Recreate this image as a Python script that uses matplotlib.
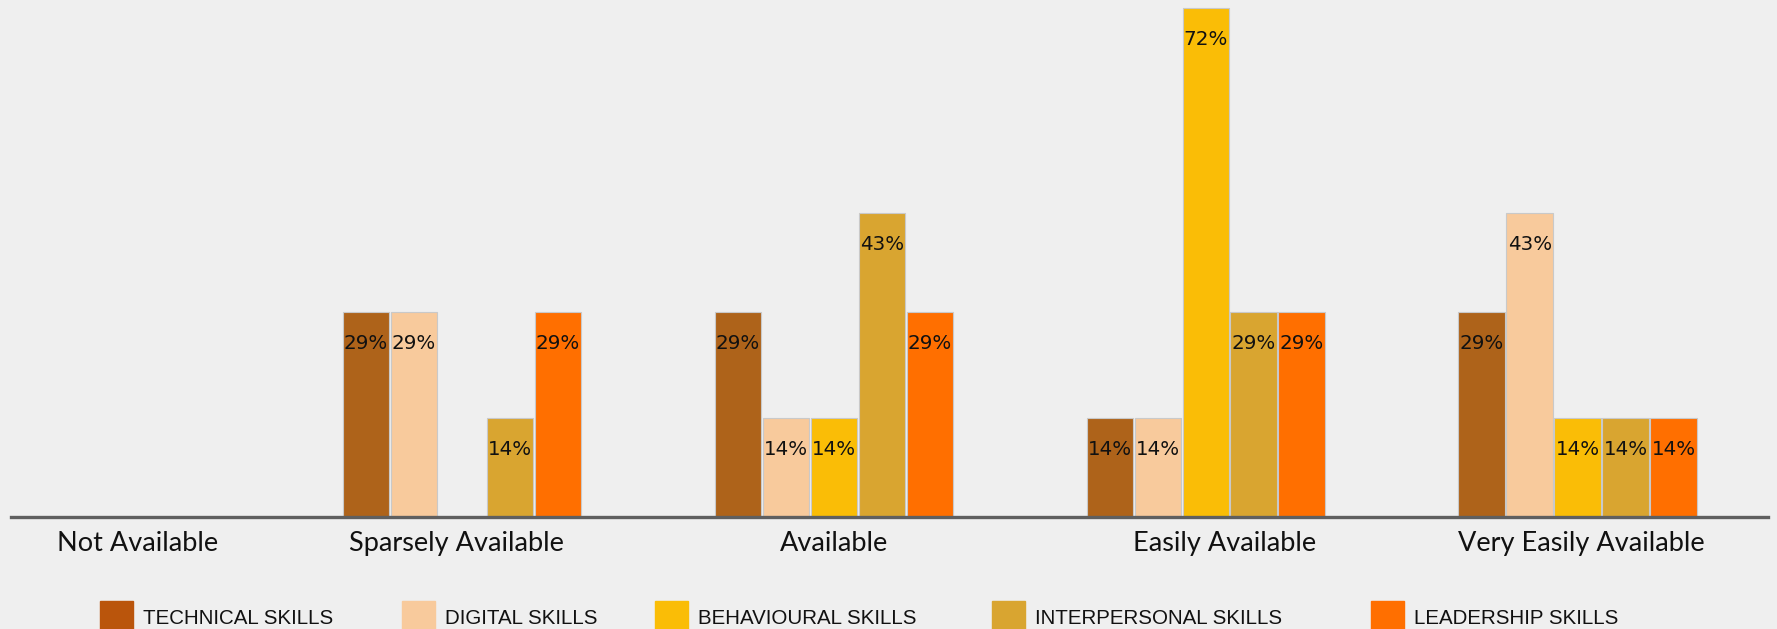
import matplotlib.pyplot as plt
import numpy as np
from matplotlib.patches import Rectangle

# availability categories on the x axis
categories = ["Not Available", "Sparsely Available", "Available",
              "Easily Available", "Very Easily Available"]

# share of respondents (%) per skill, one value per category
technical = [0, 29, 29, 14, 29]
digital = [0, 29, 14, 14, 43]
behavioural = [0, 0, 14, 72, 14]
interpersonal = [0, 14, 43, 29, 14]
leadership = [0, 29, 29, 29, 14]

series_names = ["TECHNICAL SKILLS", "DIGITAL SKILLS", "BEHAVIOURAL SKILLS",
                "INTERPERSONAL SKILLS", "LEADERSHIP SKILLS"]
bar_colors = ["#AE631A", "#F8CA9C", "#FABD06", "#D9A530", "#FF6F00"]
legend_colors = ["#BA550C", "#F8CA9C", "#FABD06", "#D9A530", "#FF6F00"]

BG = "#EFEFEF"


def main():
    fig = plt.figure(figsize=(17.77, 6.29), dpi=100, facecolor=BG)
    ax = fig.add_axes([11 / 1777, 112 / 629, 1757 / 1777, 517 / 629])
    ax.set_facecolor(BG)

    all_series = [technical, digital, behavioural, interpersonal, leadership]
    x = np.arange(len(categories))
    width = 0.125
    step = 0.129

    for i, (vals, color) in enumerate(zip(all_series, bar_colors)):
        pos = x + (i - 2) * step
        bars = ax.bar(pos, vals, width, color=color, edgecolor="#c9c9c9",
                      linewidth=0.8)
        for b, v in zip(bars, vals):
            if v <= 0:
                continue
            ax.annotate(f"{v}%", (b.get_x() + b.get_width() / 2, v),
                        xytext=(0, -23), textcoords="offset points",
                        ha="center", va="center", fontsize=14.3,
                        color="#111111", family="DejaVu Sans")

    ax.set_xlim(-0.213, 4.512)
    ax.set_ylim(0, 73.1)
    for s in ["top", "right", "left"]:
        ax.spines[s].set_visible(False)
    ax.spines["bottom"].set_color("#5f5f5f")
    ax.spines["bottom"].set_linewidth(2.4)
    ax.set_yticks([])

    # tick labels sit slightly off the group centres in the original
    label_pos = [0.128, 0.985, 2.0, 3.05, 4.01]
    ax.set_xticks(label_pos)
    ax.set_xticklabels(categories, fontsize=19.5, family="Lato", color="#111111")
    ax.tick_params(axis="x", length=0, pad=10)

    # legend drawn along the bottom edge
    patch_x = [100, 402, 655, 992, 1371]
    for px, name, color in zip(patch_x, series_names, legend_colors):
        fig.add_artist(Rectangle((px / 1777, 0), 33 / 1777, 28 / 629,
                                 transform=fig.transFigure, color=color,
                                 clip_on=False))
        fig.text((px + 43) / 1777, 11 / 629, name, fontsize=14.8,
                 family=["Liberation Sans Narrow", "Liberation Sans"],
                 color="#111111", va="center", ha="left")

    fig.savefig("out.png", dpi=100, facecolor=BG)


if __name__ == "__main__":
    main()
